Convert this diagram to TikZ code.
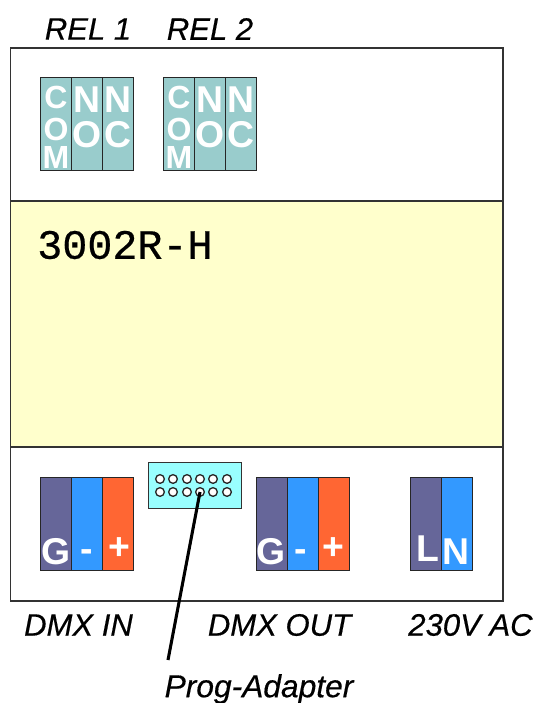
\documentclass[tikz,border=0pt]{standalone}
\usepackage{fontspec}
\setmainfont{Liberation Sans}
\newfontfamily\monofam[FakeBold=0.5]{Liberation Mono}
\newfontfamily\capfam[ItalicFeatures={FakeBold=0.4}]{Liberation Sans}
\definecolor{teal1}{HTML}{99CCCC}
\definecolor{violet1}{HTML}{666699}
\definecolor{blue1}{HTML}{3399FF}
\definecolor{orange1}{HTML}{FF6633}
\definecolor{cream}{HTML}{FFFFCC}
\definecolor{cyan1}{HTML}{99FFFF}
\definecolor{edge}{HTML}{333333}
\tikzset{
  x=0.75pt,y=-0.75pt,
  boxline/.style={draw=edge,line width=1.2pt},
  pole/.style={draw=black!85,line width=1.1pt,minimum width=23.25pt,minimum height=69.5pt,inner sep=0pt,anchor=north west},
  tealpole/.style={pole,fill=teal1},
  violetpole/.style={pole,fill=violet1},
  bluepole/.style={pole,fill=blue1},
  orangepole/.style={pole,fill=orange1},
  sign/.style={text=white,font=\fontsize{28}{28}\selectfont\bfseries,inner sep=0pt},
  smallsign/.style={text=white,font=\fontsize{24}{24}\selectfont\bfseries,inner sep=0pt},
  caption/.style={font=\capfam\fontsize{23.3}{23.3}\selectfont\itshape,text=black,inner sep=0pt},
  hole/.style={circle,draw=black!85,fill=white,line width=1pt,minimum size=6.5pt,inner sep=0pt},
}
\begin{document}
\begin{tikzpicture}
\useasboundingbox (0,0) rectangle (537,703);
\node[boxline,fill=white,minimum width=369.5pt,minimum height=414.75pt,inner sep=0pt,anchor=north west] (case) at (9.5,47) {};
\node[boxline,fill=cream,minimum width=369.5pt,minimum height=184.5pt,inner sep=0pt,anchor=north west] (band) at (9.5,200) {};
\node[anchor=west,inner sep=0pt,font=\monofam\fontsize{31.3}{31.3}\selectfont] (model) at (37,245) {3002R-H};
% relay terminals
\node[tealpole] (a1) at (40,77) {};
\node[tealpole] (a2) at (71,77) {};
\node[tealpole] (a3) at (102,77) {};
\node[tealpole] (b1) at (163,77) {};
\node[tealpole] (b2) at (194,77) {};
\node[tealpole] (b3) at (225,77) {};
\foreach \xx/\nm in {56/a,179/b}{
  \node[smallsign] (\nm c) at (\xx,97) {C};
  \node[smallsign] (\nm o) at (\xx,129) {O};
  \node[smallsign] (\nm m) at (\xx,157) {M};
}
\foreach \xx/\nm in {87/a,210/b}{
  \node[sign] (\nm n) at (\xx,100) {N};
  \node[sign] (\nm p) at (\xx,135) {O};
}
\foreach \xx/\nm in {118/a,241/b}{
  \node[sign] (\nm q) at (\xx,100) {N};
  \node[sign] (\nm r) at (\xx,135) {C};
}
\node[caption] (rel1) at (88,29) {REL 1};
\node[caption] (rel2) at (210,29) {REL 2};
% DMX in
\node[violetpole] (g1) at (40,477) {};
\node[bluepole] (m1) at (71,477) {};
\node[orangepole] (p1) at (102,477) {};
\node[sign] (g1t) at (56,552) {G};
\node[sign] (m1t) at (87,556) {-};
\node[sign] (p1t) at (119,549) {+};
% DMX out
\node[violetpole] (g2) at (255.5,477) {};
\node[bluepole] (m2) at (286.5,477) {};
\node[orangepole] (p2) at (317.5,477) {};
\node[sign] (g2t) at (271,552) {G};
\node[sign] (m2t) at (301,556) {-};
\node[sign] (p2t) at (333,549) {+};
% mains
\node[violetpole] (l) at (409.5,477) {};
\node[bluepole] (n) at (440.5,477) {};
\node[sign] (lt) at (428,549) {L};
\node[sign] (nt) at (456,552) {N};
% adapter
\node[boxline,fill=cyan1,line width=0.9pt,minimum width=69.5pt,minimum height=34.5pt,inner sep=0pt,anchor=north west] (adapter) at (148,462) {};
\foreach \xx/\i in {160/1,173/2,187/3,200/4,213/5,227/6}{
  \node[hole] (u\i) at (\xx,479) {};
  \node[hole] (d\i) at (\xx,492) {};
}
\coordinate (leadend) at (168,660);
\draw[line width=2.3pt,black] (d4.center) -- (leadend);
\node[caption] (dmxin) at (78.5,625) {DMX IN};
\node[caption] (dmxout) at (279.5,625) {DMX OUT};
\node[caption] (ac) at (470.5,625) {230V AC};
\node[caption,font=\capfam\fontsize{23.8}{23.8}\selectfont\itshape] (prog) at (259,689) {Prog-Adapter};
\end{tikzpicture}
\end{document}
